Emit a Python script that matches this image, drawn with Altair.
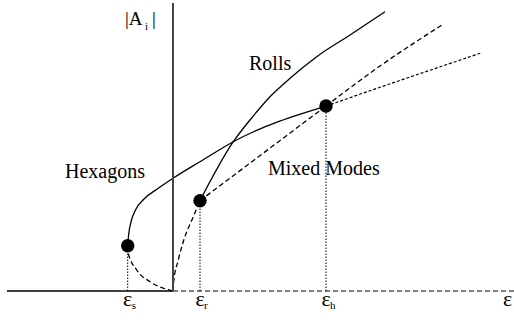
import altair as alt
import pandas as pd

# Bifurcation diagram: amplitude |A_i| against control parameter epsilon.
# Units: epsilon and amplitude in arbitrary units, origin at the onset point.

# Hexagons, stable upper branch (from saddle-node eps_s up to eps_h)
hex_stable_eps = [-0.453, -0.444, -0.42, -0.375, -0.29, -0.147, 0.0, 0.27, 0.603, 1.53]
hex_stable_amp = [0.453, 0.56, 0.69, 0.81, 0.92, 1.027, 1.127, 1.293, 1.493, 1.85]

# Hexagons, unstable lower branch (saddle-node down to onset)
hex_unstable_eps = [-0.453, -0.447, -0.363, -0.23, -0.063, 0.0]
hex_unstable_amp = [0.453, 0.377, 0.21, 0.093, 0.017, 0.0]

# Hexagons beyond eps_h (unstable)
hex_beyond_eps = [1.53, 2.40, 3.09]
hex_beyond_amp = [1.85, 2.15, 2.383]

# Rolls, unstable part (onset up to eps_r)
rolls_unstable_eps = [0.0, 0.005, 0.053, 0.105, 0.203, 0.27]
rolls_unstable_amp = [0.0, 0.08, 0.31, 0.5, 0.743, 0.903]

# Rolls, stable part (beyond eps_r)
rolls_stable_eps = [0.27, 0.603, 0.77, 0.97, 1.17, 1.437, 1.77, 2.12]
rolls_stable_amp = [0.903, 1.493, 1.71, 1.943, 2.127, 2.343, 2.56, 2.793]

# Mixed modes connecting eps_r and eps_h, and its continuation
mixed_eps = [0.27, 1.53]
mixed_amp = [0.903, 1.85]
mixed_beyond_eps = [1.53, 2.07, 2.69]
mixed_beyond_amp = [1.85, 2.25, 2.66]

# Marked bifurcation points
point_names = ["s", "r", "h"]
point_eps = [-0.453, 0.27, 1.53]
point_amp = [0.453, 0.903, 1.85]

# Trivial state (A = 0): stable for eps < 0, unstable for eps > 0
trivial_stable_eps = [-1.66, 0.0]
trivial_unstable_eps = [0.0, 3.41]

X_DOMAIN = [-1.73, 3.41]
Y_DOMAIN = [-0.35, 2.91]
FONT = "Times New Roman, Liberation Serif, Times, serif"

xs = alt.Scale(domain=X_DOMAIN, nice=False, zero=False)
ys = alt.Scale(domain=Y_DOMAIN, nice=False, zero=False)


def curve(eps, amp, dash=None, width=1.3, interp="monotone"):
    df = pd.DataFrame({"eps": eps, "amp": amp})
    kw = dict(color="black", strokeWidth=width, interpolate=interp)
    if dash:
        kw["strokeDash"] = dash
    return alt.Chart(df).mark_line(**kw).encode(
        x=alt.X("eps:Q", scale=xs, axis=None),
        y=alt.Y("amp:Q", scale=ys, axis=None),
    )


DASH = [5, 3]

layers = [
    # trivial state
    curve(trivial_stable_eps, [0, 0], width=1.5, interp="linear"),
    curve(trivial_unstable_eps, [0, 0], dash=DASH, width=1.2, interp="linear"),
    # branches
    curve(hex_stable_eps, hex_stable_amp),
    curve(hex_unstable_eps, hex_unstable_amp, dash=DASH),
    curve(hex_beyond_eps, hex_beyond_amp, dash=[3, 2], width=1.2),
    curve(rolls_unstable_eps, rolls_unstable_amp, dash=DASH),
    curve(rolls_stable_eps, rolls_stable_amp),
    curve(mixed_eps, mixed_amp, dash=DASH, interp="linear"),
    curve(mixed_beyond_eps, mixed_beyond_amp, dash=DASH),
]

# vertical amplitude axis
axis_df = pd.DataFrame({"eps": [0.0], "a0": [0.0], "a1": [2.88]})
layers.append(
    alt.Chart(axis_df).mark_rule(color="#444444", strokeWidth=2).encode(
        x=alt.X("eps:Q", scale=xs, axis=None),
        y=alt.Y("a0:Q", scale=ys, axis=None),
        y2="a1:Q",
    )
)

pts = pd.DataFrame({"name": point_names, "eps": point_eps, "amp": point_amp,
                    "zero": [0.0] * 3})

# dotted drop lines from each bifurcation point
layers.append(
    alt.Chart(pts).mark_rule(color="black", strokeWidth=1, strokeDash=[1.5, 1.5]).encode(
        x=alt.X("eps:Q", scale=xs, axis=None),
        y=alt.Y("zero:Q", scale=ys, axis=None),
        y2="amp:Q",
    )
)

# filled markers
layers.append(
    alt.Chart(pts).mark_circle(color="black", opacity=1, size=180).encode(
        x=alt.X("eps:Q", scale=xs, axis=None),
        y=alt.Y("amp:Q", scale=ys, axis=None),
    )
)

# epsilon tick labels with subscripts
eps_lbl = pts.assign(lab_y=-0.15, sub_y=-0.18)
layers.append(
    alt.Chart(eps_lbl).mark_text(font=FONT, fontSize=22, align="center",
                                 baseline="alphabetic", color="black").encode(
        x=alt.X("eps:Q", scale=xs, axis=None),
        y=alt.Y("lab_y:Q", scale=ys, axis=None),
        text=alt.value("ε"),
    )
)
layers.append(
    alt.Chart(eps_lbl).mark_text(font=FONT, fontSize=11, align="left", dx=4,
                                 baseline="alphabetic", color="black").encode(
        x=alt.X("eps:Q", scale=xs, axis=None),
        y=alt.Y("sub_y:Q", scale=ys, axis=None),
        text="name:N",
    )
)

# free text labels
label_text = ["Hexagons", "Rolls", "Mixed Modes", "|A", "|", "ε"]
label_eps = [-1.08, 0.76, 0.95, -0.48, -0.21, 3.30]
label_amp = [1.13, 2.21, 1.16, 2.66, 2.66, -0.15]
label_size = [20, 20, 20, 19, 19, 22]
labels = pd.DataFrame({"t": label_text, "eps": label_eps, "amp": label_amp,
                       "fs": label_size})
layers.append(
    alt.Chart(labels).mark_text(font=FONT, align="left", baseline="alphabetic",
                                color="black").encode(
        x=alt.X("eps:Q", scale=xs, axis=None),
        y=alt.Y("amp:Q", scale=ys, axis=None),
        text="t:N",
        size=alt.Size("fs:Q", scale=None, legend=None),
    )
)

# subscript i of |A_i|
sub_df = pd.DataFrame({"t": ["i"], "eps": [-0.28], "amp": [2.61]})
layers.append(
    alt.Chart(sub_df).mark_text(font=FONT, fontSize=11, align="left",
                                baseline="alphabetic", color="black").encode(
        x=alt.X("eps:Q", scale=xs, axis=None),
        y=alt.Y("amp:Q", scale=ys, axis=None),
        text="t:N",
    )
)

chart = alt.layer(*layers).properties(
    width=514, height=326,
    autosize=alt.AutoSizeParams(type="none"),
    padding=0,
    background="white",
).configure_view(stroke=None)

chart.save("out.html", embed_options={"renderer": "svg", "actions": False})
